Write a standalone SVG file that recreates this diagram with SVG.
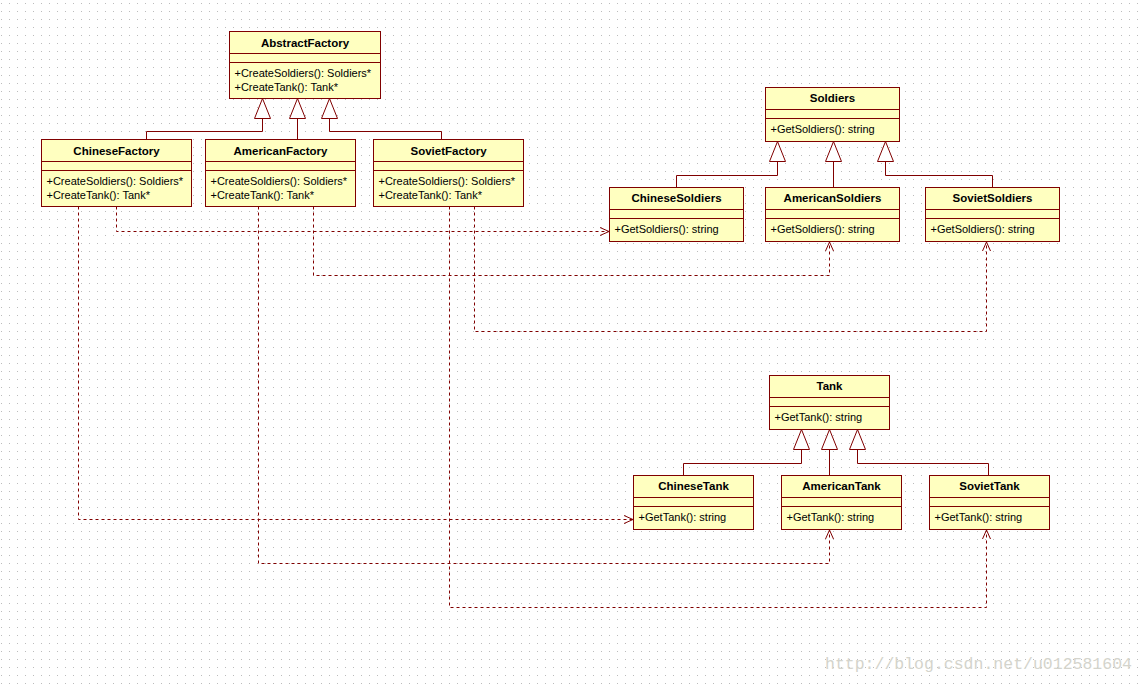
<svg xmlns="http://www.w3.org/2000/svg" width="1145" height="686" viewBox="0 0 1145 686">
<defs>
<pattern id="dots" width="8" height="8" patternUnits="userSpaceOnUse"><rect x="1" y="3" width="1" height="1" fill="#bcbcbc"/></pattern>
<marker id="open" markerWidth="12" markerHeight="10" refX="10" refY="5" orient="auto" markerUnits="userSpaceOnUse"><path d="M1,1 L10,5 L1,9" fill="none" stroke="#800000" stroke-width="1"/></marker>
</defs>
<style>
.box{fill:#ffffc0;stroke:#800000;stroke-width:1}
.sep{stroke:#800000;stroke-width:1}
.name{font-family:"Liberation Sans",Arial,sans-serif;font-size:11.5px;font-weight:bold;text-anchor:middle;fill:#000}
.op{font-family:"Liberation Sans",Arial,sans-serif;font-size:11px;fill:#000}
.gen{fill:none;stroke:#800000;stroke-width:1}
.tri{fill:#fff;stroke:#800000;stroke-width:1}
.dep{fill:none;stroke:#800000;stroke-width:1;stroke-dasharray:3,3;marker-end:url(#open)}
.wm{font-family:"Liberation Mono","Courier New",monospace;font-size:16.5px;fill:#d4d4cc}
</style>
<rect width="1145" height="686" fill="#fff"/>
<rect width="1145" height="686" fill="url(#dots)"/>

<g id="connectors">
<path class="gen" d="M146.5,139.5 V131.5 H262.5 V118.5"/>
<path class="gen" d="M297.5,139.5 V118.5"/>
<path class="gen" d="M441.5,139.5 V131.5 H329.5 V118.5"/>
<polygon class="tri" points="262.5,98.5 254.5,118.5 270.5,118.5"/>
<polygon class="tri" points="297.5,98.5 289.5,118.5 305.5,118.5"/>
<polygon class="tri" points="329.5,98.5 321.5,118.5 337.5,118.5"/>

<path class="gen" d="M676.5,187.5 V175.5 H777.5 V161.5"/>
<path class="gen" d="M833.5,187.5 V161.5"/>
<path class="gen" d="M992.5,187.5 V175.5 H885.5 V161.5"/>
<polygon class="tri" points="777.5,141.5 769.5,161.5 785.5,161.5"/>
<polygon class="tri" points="833.5,141.5 825.5,161.5 841.5,161.5"/>
<polygon class="tri" points="885.5,141.5 877.5,161.5 893.5,161.5"/>

<path class="gen" d="M683.5,475.5 V463.5 H801.5 V449.5"/>
<path class="gen" d="M829.5,475.5 V449.5"/>
<path class="gen" d="M988.5,475.5 V463.5 H857.5 V449.5"/>
<polygon class="tri" points="801.5,429.5 793.5,449.5 809.5,449.5"/>
<polygon class="tri" points="829.5,429.5 821.5,449.5 837.5,449.5"/>
<polygon class="tri" points="857.5,429.5 849.5,449.5 865.5,449.5"/>

<path class="dep" d="M116.5,206.5 V231.5 H609"/>
<path class="dep" d="M78.5,206.5 V519.5 H633"/>
<path class="dep" d="M313.5,206.5 V275.5 H829.5 V242"/>
<path class="dep" d="M258.5,206.5 V563.5 H829.5 V530"/>
<path class="dep" d="M474.5,206.5 V331.5 H986.5 V242"/>
<path class="dep" d="M449.5,206.5 V607.5 H986.5 V530"/>
</g>

<g id="AbstractFactory">
<rect class="box" x="229.5" y="31.5" width="151" height="67"/>
<path class="sep" d="M229.5,53.5 H380.5 M229.5,62.5 H380.5"/>
<text class="name" x="305" y="46.5">AbstractFactory</text>
<text class="op" x="234.5" y="76.5">+CreateSoldiers(): Soldiers*</text>
<text class="op" x="234.5" y="90.5">+CreateTank(): Tank*</text>
</g>

<g id="ChineseFactory">
<rect class="box" x="41.5" y="139.5" width="150" height="67"/>
<path class="sep" d="M41.5,161.5 H191.5 M41.5,170.5 H191.5"/>
<text class="name" x="116.5" y="154.5">ChineseFactory</text>
<text class="op" x="46.5" y="184.5">+CreateSoldiers(): Soldiers*</text>
<text class="op" x="46.5" y="198.5">+CreateTank(): Tank*</text>
</g>

<g id="AmericanFactory">
<rect class="box" x="205.5" y="139.5" width="150" height="67"/>
<path class="sep" d="M205.5,161.5 H355.5 M205.5,170.5 H355.5"/>
<text class="name" x="280.5" y="154.5">AmericanFactory</text>
<text class="op" x="210.5" y="184.5">+CreateSoldiers(): Soldiers*</text>
<text class="op" x="210.5" y="198.5">+CreateTank(): Tank*</text>
</g>

<g id="SovietFactory">
<rect class="box" x="373.5" y="139.5" width="150" height="67"/>
<path class="sep" d="M373.5,161.5 H523.5 M373.5,170.5 H523.5"/>
<text class="name" x="448.5" y="154.5">SovietFactory</text>
<text class="op" x="378.5" y="184.5">+CreateSoldiers(): Soldiers*</text>
<text class="op" x="378.5" y="198.5">+CreateTank(): Tank*</text>
</g>

<g id="Soldiers">
<rect class="box" x="765.5" y="87.5" width="134" height="54"/>
<path class="sep" d="M765.5,109.5 H899.5 M765.5,118.5 H899.5"/>
<text class="name" x="832.5" y="102">Soldiers</text>
<text class="op" x="770.5" y="133">+GetSoldiers(): string</text>
</g>

<g id="ChineseSoldiers">
<rect class="box" x="609.5" y="187.5" width="134" height="54"/>
<path class="sep" d="M609.5,209.5 H743.5 M609.5,218.5 H743.5"/>
<text class="name" x="676.5" y="202">ChineseSoldiers</text>
<text class="op" x="614.5" y="233">+GetSoldiers(): string</text>
</g>

<g id="AmericanSoldiers">
<rect class="box" x="765.5" y="187.5" width="134" height="54"/>
<path class="sep" d="M765.5,209.5 H899.5 M765.5,218.5 H899.5"/>
<text class="name" x="832.5" y="202">AmericanSoldiers</text>
<text class="op" x="770.5" y="233">+GetSoldiers(): string</text>
</g>

<g id="SovietSoldiers">
<rect class="box" x="925.5" y="187.5" width="134" height="54"/>
<path class="sep" d="M925.5,209.5 H1059.5 M925.5,218.5 H1059.5"/>
<text class="name" x="992.5" y="202">SovietSoldiers</text>
<text class="op" x="930.5" y="233">+GetSoldiers(): string</text>
</g>

<g id="Tank">
<rect class="box" x="769.5" y="375.5" width="120" height="54"/>
<path class="sep" d="M769.5,397.5 H889.5 M769.5,406.5 H889.5"/>
<text class="name" x="829.5" y="390">Tank</text>
<text class="op" x="774.5" y="421">+GetTank(): string</text>
</g>

<g id="ChineseTank">
<rect class="box" x="633.5" y="475.5" width="120" height="54"/>
<path class="sep" d="M633.5,497.5 H753.5 M633.5,506.5 H753.5"/>
<text class="name" x="693.5" y="490">ChineseTank</text>
<text class="op" x="638.5" y="521">+GetTank(): string</text>
</g>

<g id="AmericanTank">
<rect class="box" x="781.5" y="475.5" width="120" height="54"/>
<path class="sep" d="M781.5,497.5 H901.5 M781.5,506.5 H901.5"/>
<text class="name" x="841.5" y="490">AmericanTank</text>
<text class="op" x="786.5" y="521">+GetTank(): string</text>
</g>

<g id="SovietTank">
<rect class="box" x="929.5" y="475.5" width="120" height="54"/>
<path class="sep" d="M929.5,497.5 H1049.5 M929.5,506.5 H1049.5"/>
<text class="name" x="989.5" y="490">SovietTank</text>
<text class="op" x="934.5" y="521">+GetTank(): string</text>
</g>

<text class="wm" x="825" y="669">http://blog.csdn.net/u012581604</text>
</svg>
